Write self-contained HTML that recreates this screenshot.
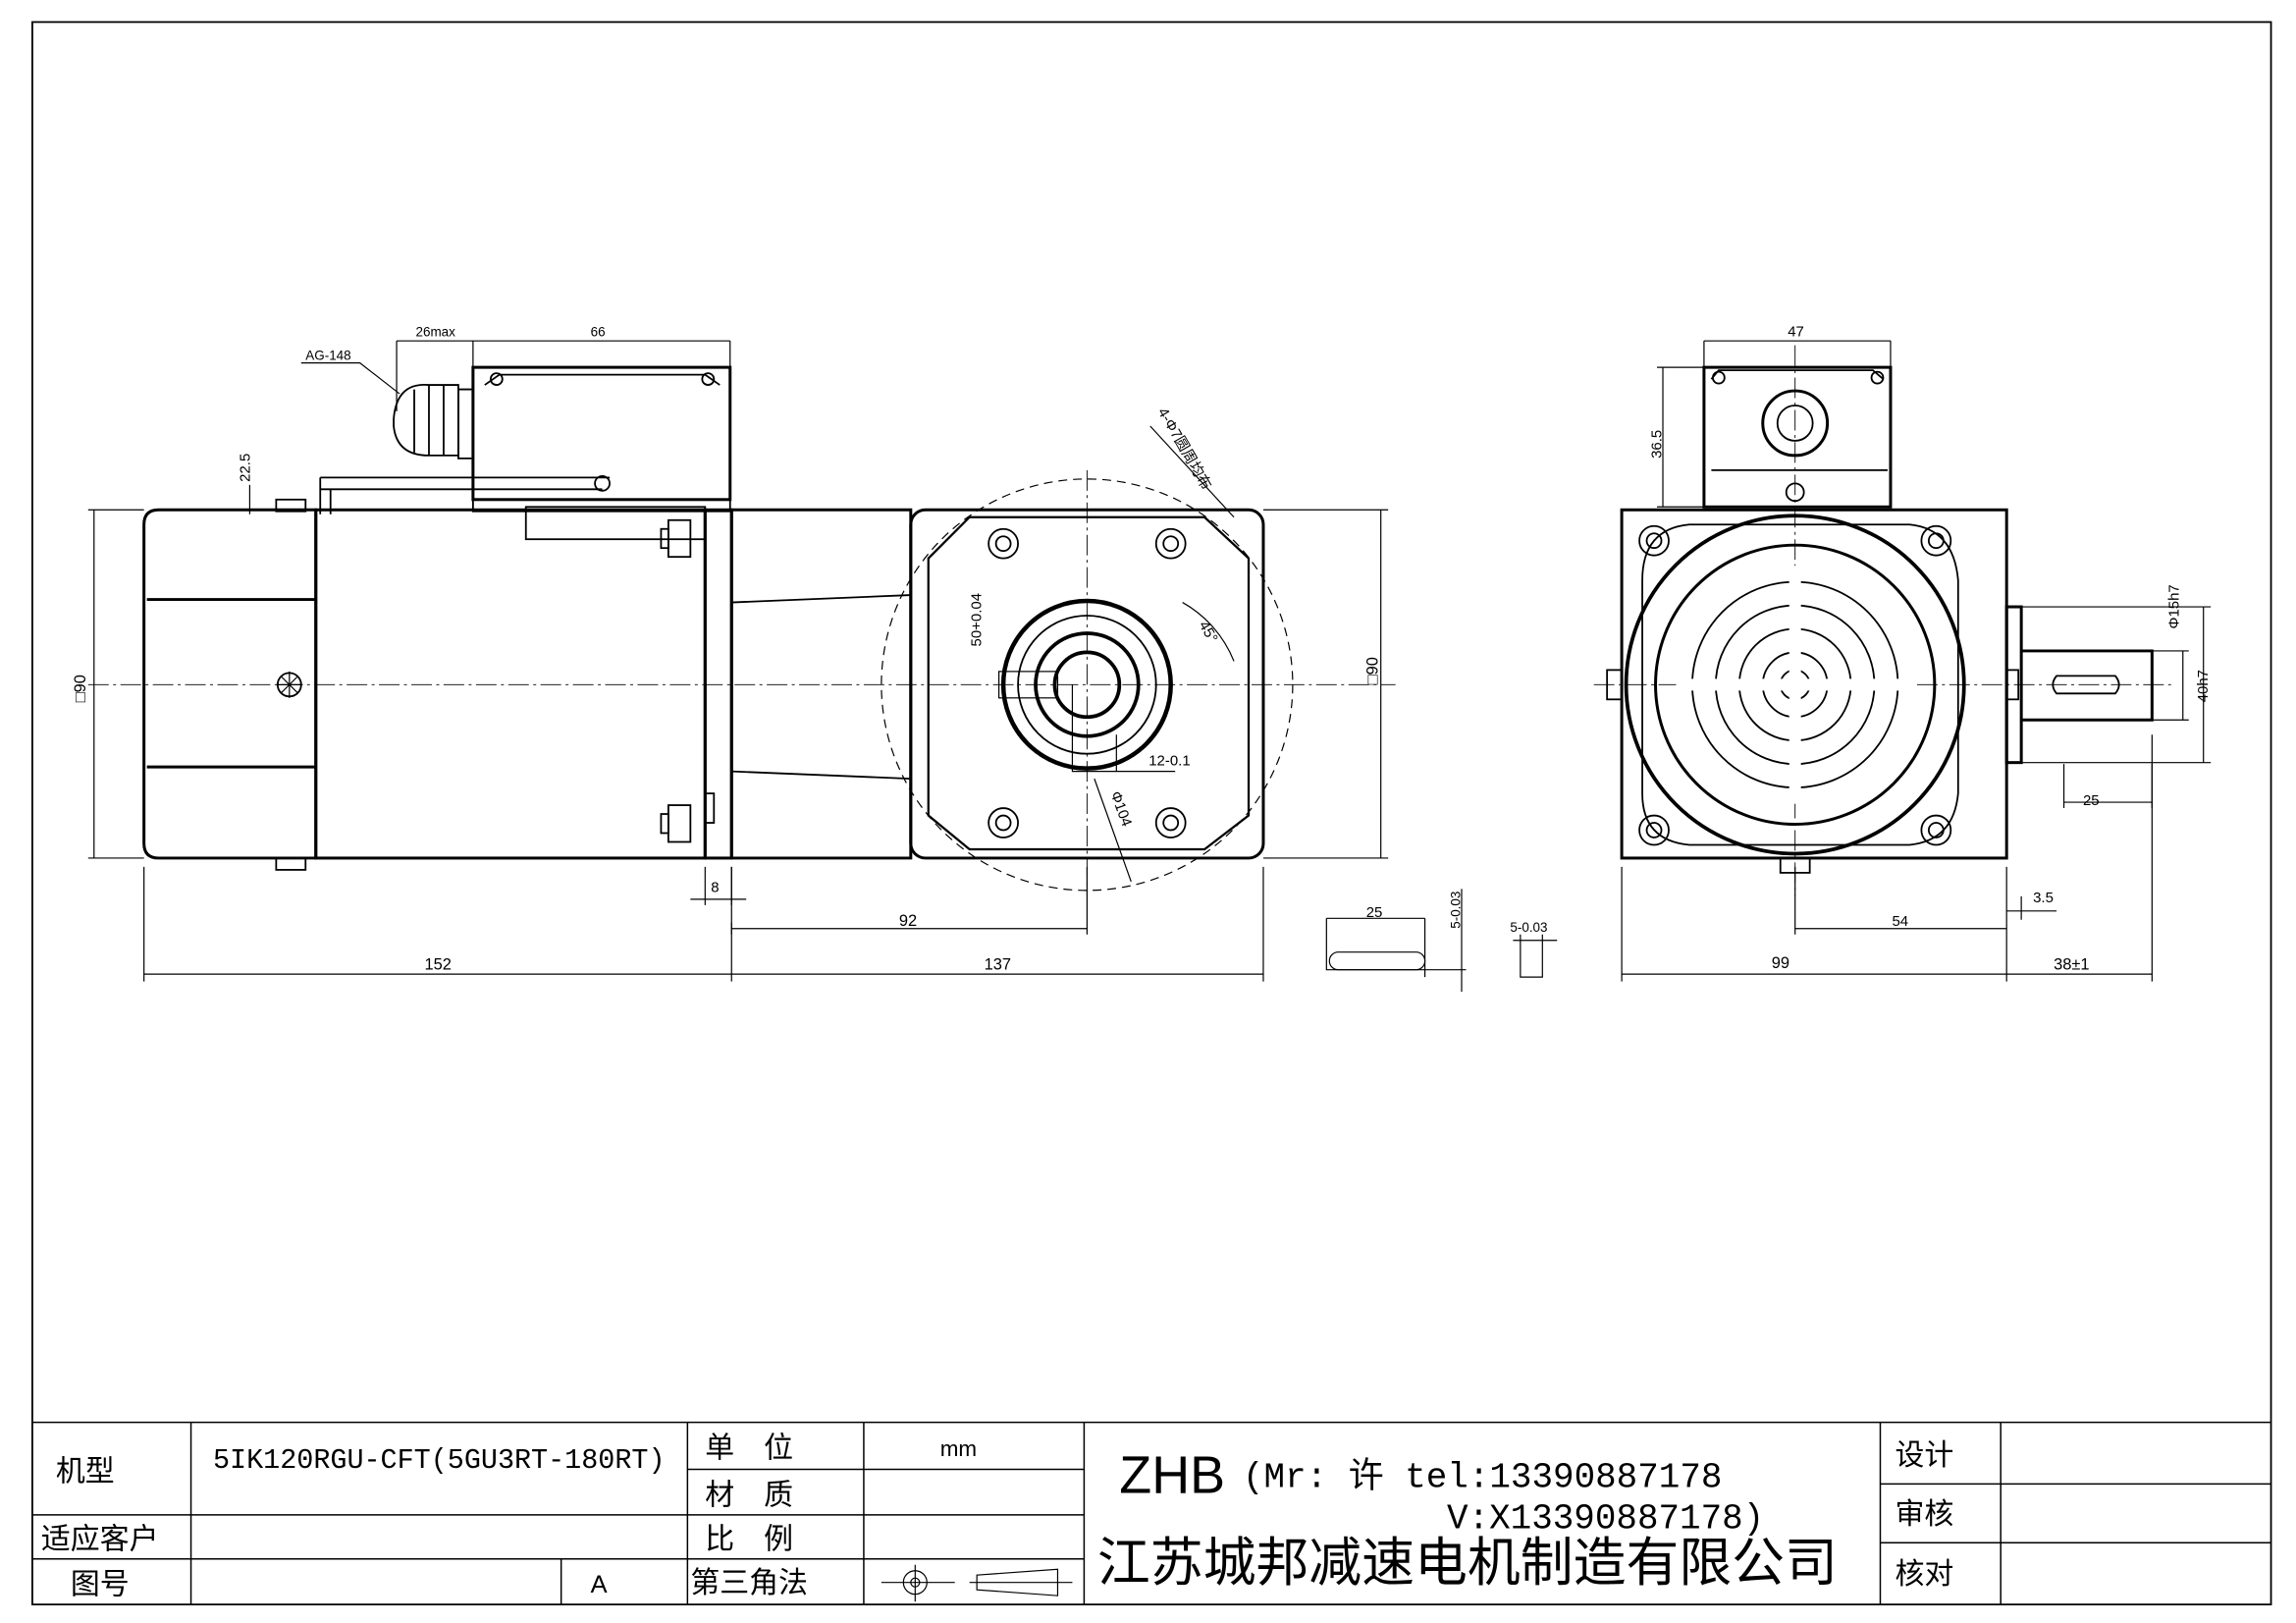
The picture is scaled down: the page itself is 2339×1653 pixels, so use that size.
<!DOCTYPE html>
<html><head><meta charset="utf-8"><style>html,body{margin:0;padding:0;background:#fff}svg{display:block}</style></head>
<body>
<svg width="2339" height="1653" viewBox="0 0 1563 1104.6" xmlns="http://www.w3.org/2000/svg" font-family="Liberation Sans, Noto Sans CJK SC, sans-serif" fill="none" stroke="#000">
<rect x="0" y="0" width="1563" height="1105" fill="#fff" stroke="none"/>
<rect x="22" y="15" width="1524" height="1077" stroke-width="1.2"/>
<!-- title block -->
<g stroke-width="1">
<line x1="22" y1="968" x2="1546" y2="968"/>
<line x1="22" y1="1031" x2="738" y2="1031"/>
<line x1="22" y1="1061" x2="738" y2="1061"/>
<line x1="468" y1="1000" x2="738" y2="1000"/>
<line x1="1280" y1="1010" x2="1546" y2="1010"/>
<line x1="1280" y1="1050" x2="1546" y2="1050"/>
<line x1="130" y1="968" x2="130" y2="1092"/>
<line x1="382" y1="1061" x2="382" y2="1092"/>
<line x1="468" y1="968" x2="468" y2="1092"/>
<line x1="588" y1="968" x2="588" y2="1092"/>
<line x1="738" y1="968" x2="738" y2="1092"/>
<line x1="1280" y1="968" x2="1280" y2="1092"/>
<line x1="1362" y1="968" x2="1362" y2="1092"/>
</g>
<g fill="#000" stroke="none" font-size="20">
<text x="38" y="1008">机型</text>
<text x="145" y="999" font-size="19" font-family="Liberation Mono, monospace">5IK120RGU-CFT(5GU3RT-180RT)</text>
<text x="28" y="1054">适应客户</text>
<text x="48" y="1085">图号</text>
<text x="402" y="1084" font-size="17">A</text>
<text x="480" y="992">单　位</text>
<text x="640" y="991" font-size="15">mm</text>
<text x="480" y="1024">材　质</text>
<text x="480" y="1054">比　例</text>
<text x="470" y="1084">第三角法</text>
<text x="762" y="1016" font-size="36">ZHB</text>
<text x="846" y="1012" font-size="24" font-family="Liberation Mono, Noto Sans CJK SC, monospace">(Mr: 许 tel:13390887178</text>
<text x="985" y="1040" font-size="24" font-family="Liberation Mono, monospace">V:X13390887178)</text>
<text x="747" y="1076" font-size="36">江苏城邦减速电机制造有限公司</text>
<text x="1290" y="997">设计</text>
<text x="1290" y="1037">审核</text>
<text x="1290" y="1078">核对</text>
</g>
<g stroke-width="0.8"><circle cx="623" cy="1077" r="8"/><circle cx="623" cy="1077" r="3"/><line x1="600" y1="1077" x2="650" y2="1077"/><line x1="623" y1="1065" x2="623" y2="1090"/>
<path d="M665 1072 L720 1068 L720 1086 L665 1082 Z"/><line x1="660" y1="1077" x2="730" y2="1077"/></g>

<!-- center lines -->
<g stroke-width="0.6" stroke-dasharray="14 3 2 3">
<line x1="60" y1="466" x2="950" y2="466"/>
<line x1="740" y1="320" x2="740" y2="610"/>
<line x1="1085" y1="466" x2="1480" y2="466"/>
<line x1="1222" y1="235" x2="1222" y2="610"/>
</g>

<!-- LEFT VIEW -->
<g stroke-width="2">
<path d="M108 347 H215 V584 H108 Q98 584 98 574 V357 Q98 347 108 347 Z"/>
<path d="M100 408 H215 M100 522 H215"/>
<rect x="215" y="347" width="265" height="237"/>
<rect x="480" y="347" width="18" height="237"/>
<path d="M498 347 H620 V584 H498 Z"/>
<path d="M498 410 L620 405 M498 525 L620 530" stroke-width="1.2"/>
<rect x="620" y="347" width="240" height="237" rx="10"/>
<path d="M632 380 L660 352 H820 L850 380 V555 L820 578 H660 L632 555 Z" stroke-width="1.5"/>
<rect x="322" y="250" width="175" height="90"/>
<rect x="322" y="340" width="175" height="8" stroke-width="1.2"/>
<rect x="358" y="345" width="122" height="22" stroke-width="1.2"/>
</g>
<g stroke-width="1.2">
<path d="M330 262 L340 255 H480 L490 262"/>
<circle cx="338" cy="258" r="4"/><circle cx="482" cy="258" r="4"/>
<path d="M322 265 H312 V312 H322"/>
<path d="M268 285 Q270 260 292 262 H312 V310 H292 Q270 310 268 290 Z"/>
<path d="M282 265 V308 M292 262 V310 M302 262 V310"/>
<path d="M218 325 H415 M218 333 H410 M218 325 V350 M225 333 V350"/>
<circle cx="410" cy="329" r="5"/>
<rect x="188" y="340" width="20" height="8"/>
<rect x="188" y="584" width="20" height="8"/>
<circle cx="197" cy="466" r="8"/><path d="M191 460 L203 472 M203 460 L191 472 M197 457 V475 M188 466 H206" stroke-width="0.8"/>
<rect x="455" y="354" width="15" height="25"/><rect x="450" y="360" width="5" height="13"/>
<rect x="455" y="548" width="15" height="25"/><rect x="450" y="554" width="5" height="13"/>
<rect x="480" y="540" width="6" height="20"/>
</g>
<g stroke-width="1.2">
<circle cx="740" cy="466" r="140" stroke-dasharray="6 4" stroke-width="0.8"/>
<circle cx="740" cy="466" r="57" stroke-width="3"/>
<circle cx="740" cy="466" r="47"/>
<circle cx="740" cy="466" r="35" stroke-width="2.5"/>
<circle cx="740" cy="466" r="22" stroke-width="2.5"/>
<rect x="680" y="457" width="40" height="18" stroke-width="0.8"/>
<path d="M730 466 V525 H800 M760 500 V525" stroke-width="0.8"/>
</g>
<g stroke-width="1.2">
<circle cx="683" cy="370" r="10"/><circle cx="683" cy="370" r="5"/>
<circle cx="797" cy="370" r="10"/><circle cx="797" cy="370" r="5"/>
<circle cx="683" cy="560" r="10"/><circle cx="683" cy="560" r="5"/>
<circle cx="797" cy="560" r="10"/><circle cx="797" cy="560" r="5"/>
<path d="M783 290 L840 352 M745 530 L770 600 M805 410 A80 80 0 0 1 840 450" stroke-width="0.8"/>
</g>

<!-- RIGHT VIEW -->
<g stroke-width="2">
<rect x="1104" y="347" width="262" height="237"/>
<rect x="1160" y="250" width="127" height="95"/>
<rect x="1366" y="413" width="10" height="106"/>
<path d="M1376 443 H1465 V490 H1376"/>
<circle cx="1222" cy="466" r="115" stroke-width="2.5"/>
<circle cx="1222" cy="466" r="95"/>
</g>
<g stroke-width="1.2">
<path d="M1118 395 Q1118 360 1150 357 H1300 Q1330 360 1333 395 V540 Q1330 572 1300 575 H1150 Q1118 572 1118 540 Z"/>
<circle cx="1222" cy="288" r="22" stroke-width="2"/><circle cx="1222" cy="288" r="12"/>
<path d="M1165 258 L1170 252 H1275 L1282 258 M1165 320 H1285"/>
<circle cx="1170" cy="257" r="4"/><circle cx="1278" cy="257" r="4"/>
<circle cx="1222" cy="335" r="6"/>
<circle cx="1126" cy="368" r="10"/><circle cx="1126" cy="368" r="5"/>
<circle cx="1318" cy="368" r="10"/><circle cx="1318" cy="368" r="5"/>
<circle cx="1126" cy="565" r="10"/><circle cx="1126" cy="565" r="5"/>
<circle cx="1318" cy="565" r="10"/><circle cx="1318" cy="565" r="5"/>
<circle cx="1222" cy="466" r="10"/><circle cx="1222" cy="466" r="4"/>
<circle cx="1222" cy="466" r="22"/><circle cx="1222" cy="466" r="38"/><circle cx="1222" cy="466" r="54"/><circle cx="1222" cy="466" r="70"/>
<path d="M1222 385 V547 M1141 466 H1303" stroke="#fff" stroke-width="8"/>
<rect x="1094" y="456" width="10" height="20"/><rect x="1366" y="456" width="8" height="20"/>
<rect x="1212" y="584" width="20" height="10"/>
<path d="M1400 460 H1440 Q1445 466 1440 472 H1400 Q1395 466 1400 460 Z"/>
</g>

<!-- DIMENSIONS -->
<g stroke-width="0.8">
<path d="M98 590 V668 M498 590 V668 M860 590 V668 M98 663 H860"/>
<path d="M498 628 V636 M740 590 V636 M498 632 H740"/>
<path d="M480 590 V616 M498 590 V616 M470 612 H508"/>
<path d="M60 347 H98 M60 584 H98 M64 347 V584"/>
<path d="M860 347 H945 M860 584 H945 M940 347 V584"/>
<path d="M170 330 V350 M160 347 H190"/>
<path d="M270 232 V280 M322 232 V250 M497 232 V250 M270 232 H497"/>
<path d="M205 247 H245 L272 268"/>
<path d="M1104 590 V668 M1366 590 V668 M1465 500 V668 M1104 663 H1465"/>
<path d="M1222 590 V636 M1366 632 H1222"/>
<path d="M1366 620 H1400 M1376 610 V626"/>
<path d="M1160 232 V250 M1287 232 V250 M1160 232 H1287"/>
<path d="M1128 250 H1160 M1128 345 H1160 M1132 250 V345"/>
<path d="M1376 413 H1505 M1376 519 H1505 M1500 413 V519"/>
<path d="M1465 443 H1490 M1465 490 H1490 M1486 443 V490"/>
<path d="M1405 520 V550 M1465 520 V550 M1405 546 H1465"/>
<path d="M903 625 H970 M903 625 V660 H998 M970 625 V665 M995 605 V675"/>
<rect x="905" y="648" width="65" height="12" rx="6"/>
<path d="M1030 640 H1060 M1035 636 V665 H1050 V636"/>
</g>
<g fill="#000" stroke="none" font-size="11">
<text x="289" y="660">152</text>
<text x="670" y="660">137</text>
<text x="612" y="630">92</text>
<text x="484" y="607" font-size="10">8</text>
<text x="283" y="229" font-size="9">26max</text>
<text x="402" y="229" font-size="9">66</text>
<text x="208" y="245" font-size="9">AG-148</text>
<text transform="translate(170 328) rotate(-90)" font-size="10">22.5</text>
<text transform="translate(58 478) rotate(-90)">□90</text>
<text transform="translate(938 466) rotate(-90)">□90</text>
<text x="1217" y="229" font-size="10">47</text>
<text transform="translate(1131 312) rotate(-90)" font-size="10">36.5</text>
<text x="1206" y="659">99</text>
<text x="1398" y="660">38±1</text>
<text x="1288" y="630" font-size="10">54</text>
<text x="1384" y="614" font-size="10">3.5</text>
<text x="1418" y="548" font-size="10">25</text>
<text transform="translate(1483 428) rotate(-90)" font-size="10">Φ15h7</text>
<text transform="translate(1503 478) rotate(-90)" font-size="10">40h7</text>
<text x="930" y="624" font-size="10">25</text>
<text transform="translate(994 632) rotate(-90)" font-size="9">5-0.03</text>
<text x="1028" y="634" font-size="9">5-0.03</text>
<text x="782" y="521" font-size="10">12-0.1</text>
<text transform="translate(668 440) rotate(-90)" font-size="10">50+0.04</text>
<text transform="translate(816 425) rotate(60)" font-size="10">45°</text>
<text transform="translate(756 540) rotate(70)" font-size="10">Φ104</text>
<text transform="translate(788 280) rotate(60)" font-size="10">4-Φ7圆周均布</text>
</g>
</svg>
</body></html>
